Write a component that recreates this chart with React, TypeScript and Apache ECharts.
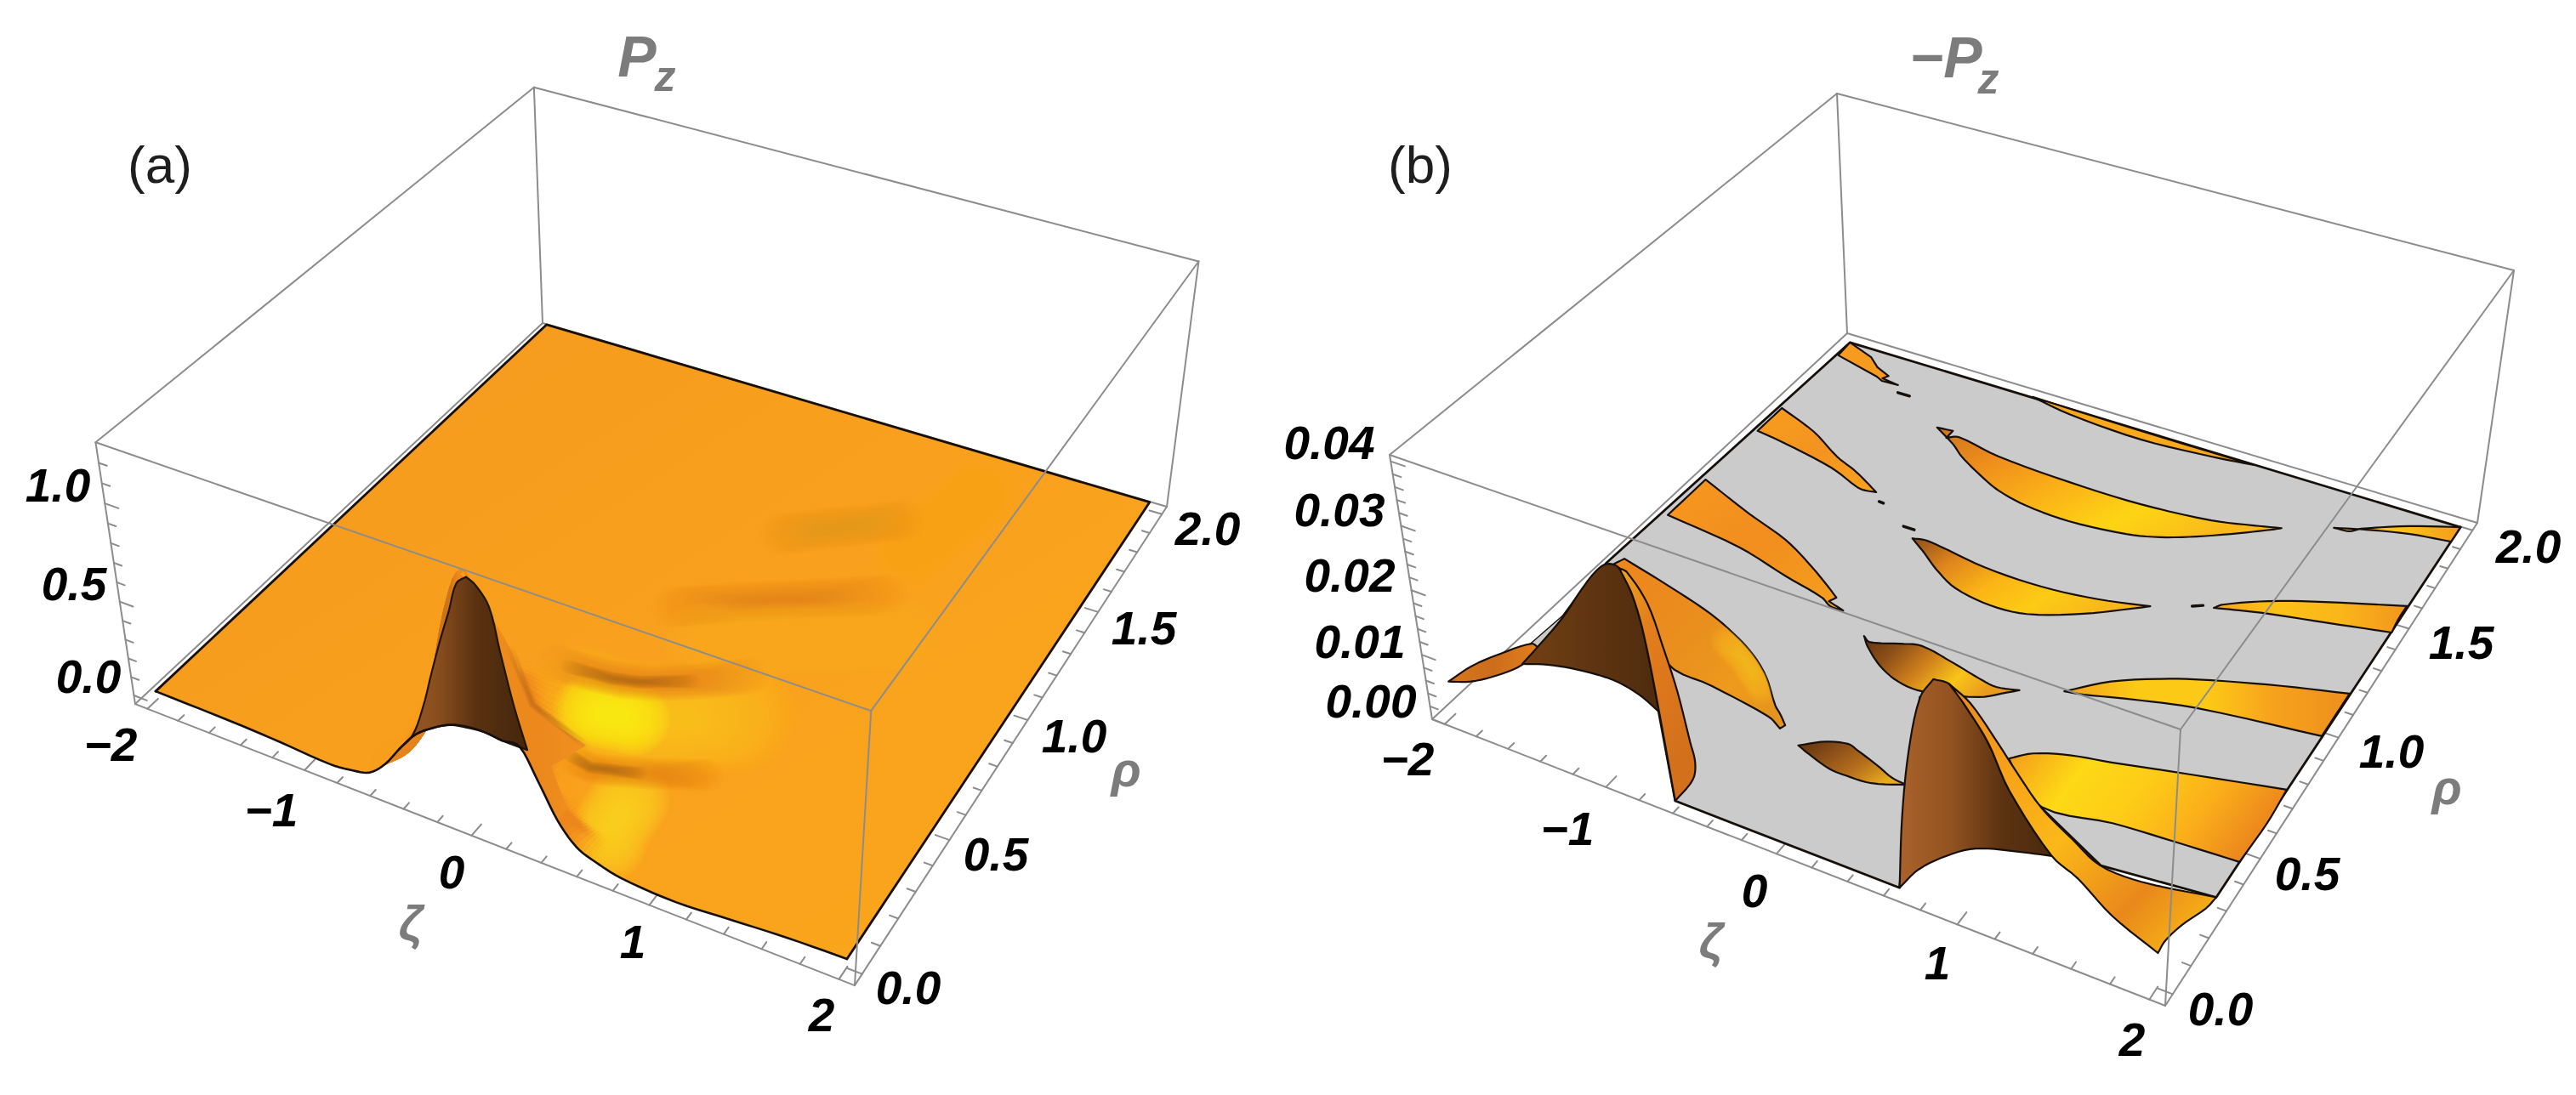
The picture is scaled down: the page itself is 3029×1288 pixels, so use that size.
import React, { useEffect, useRef } from "react";
import * as echarts from "echarts";

// ---------- values ----------
const zetaKnots = [-2, -1.5, -1.2, -0.9, -0.75, -0.65, -0.55, -0.45, -0.35, -0.25, -0.15, -0.05, 0.05, 0.15, 0.25, 0.35, 0.45, 0.55, 0.65, 0.8, 1.1, 1.4, 1.7, 2];
const rhoKnots = [0, 0.05, 0.1, 0.15, 0.2, 0.25, 0.3, 0.35, 0.4, 0.5, 0.6, 1, 1.5, 2];
const pzRho000 = [0, -0.005, -0.015, -0.03, -0.015, 0.01, 0.09, 0.21, 0.315, 0.38, 0.43, 0.45, 0.46, 0.45, 0.45, 0.3, 0.14, 0.04, 0, -0.035, -0.05, -0.03, -0.01, 0];
const pzRho005 = [0, 0, -0.01, -0.02, -0.005, 0.017, 0.054, 0.14, 0.29, 0.49, 0.65, 0.7, 0.63, 0.48, 0.32, 0.18, 0.09, 0.03, 0, -0.03, -0.04, -0.02, 0, 0];
const pzRho010 = [0, 0, -0.005, -0.01, 0, 0.017, 0.075, 0.24, 0.52, 0.83, 0.92, 0.78, 0.54, 0.29, 0.13, 0.05, 0.015, 0, 0, -0.015, -0.02, -0.01, 0, 0];
const pzRho015 = [0, 0, 0, 0, 0, 0.018, 0.105, 0.37, 0.78, 1.0, 0.87, 0.58, 0.29, 0.11, 0.03, 0.01, 0, 0, 0, -0.005, -0.01, 0, 0, 0];
const pzRho020 = [0, 0, 0, 0, 0, 0.02, 0.12, 0.38, 0.72, 0.85, 0.67, 0.39, 0.165, 0.05, 0.012, 0, 0, 0, 0, 0, 0, 0, 0, 0];
const pzRho025 = [0, 0, 0, 0, 0, 0.02, 0.1, 0.3, 0.55, 0.61, 0.46, 0.25, 0.09, 0.025, 0.005, 0, 0, 0, 0, 0, 0, 0, 0, 0];
const pzRho030 = [0, 0, 0, 0, 0, 0.02, 0.09, 0.24, 0.39, 0.4, 0.27, 0.13, 0.04, 0.01, 0, 0, 0, 0, 0, 0, 0, 0, 0, 0];
const pzRho035 = [0, 0, 0, 0, 0, 0.017, 0.07, 0.17, 0.255, 0.23, 0.13, 0.04, 0.01, 0, 0, 0, 0, 0, 0, 0, 0, 0, 0, 0];
const pzRho040 = [0, 0, 0, 0, 0, 0.01, 0.04, 0.1, 0.14, 0.1, 0.04, 0.01, 0, 0, 0, 0, 0, 0, 0, 0, 0, 0, 0, 0];
const pzRho050 = [0, 0, 0, 0, 0, 0, 0.01, 0.02, 0.03, 0.02, 0.01, 0, 0, 0, 0, 0, 0, 0, 0, 0, 0, 0, 0, 0];
const pzFlat = [0, 0, 0, 0, 0, 0, 0, 0, 0, 0, 0, 0, 0, 0, 0, 0, 0, 0, 0, 0, 0, 0, 0, 0];
const pzRows = [pzRho000, pzRho005, pzRho010, pzRho015, pzRho020, pzRho025, pzRho030, pzRho035, pzRho040, pzRho050, pzFlat, pzFlat, pzFlat, pzFlat];
// front face and right flank of the Pz ridge, [zeta, rho, value]
const aFace = [[-0.46, 0, 0.2], [-0.35, 0, 0.315], [-0.15, 0, 0.43], [0, 0, 0.46], [0.16, 0, 0.45], [0.29, 0, 0.45], [0.07, 0.12, 0.45], [-0.04, 0.153, 0.65], [-0.07, 0.135, 0.89], [-0.13, 0.126, 0.99], [-0.168, 0.116, 1.03], [-0.217, 0.11, 0.99], [-0.24, 0.089, 0.87], [-0.294, 0.084, 0.71], [-0.33, 0.064, 0.55], [-0.344, 0.032, 0.42], [-0.39, 0.012, 0.28]];
const aFlank = [[-0.168, 0.116, 1.03], [-0.07, 0.135, 0.89], [-0.04, 0.153, 0.65], [0.07, 0.12, 0.45], [0.29, 0, 0.45], [0.35, 0, 0.3], [0.45, 0, 0.14], [0.354, 0.125, 0], [0.124, 0.24, 0], [0.2, 0.35, 0], [-0.2, 0.42, 0], [-0.533, 0.583, 0]];

// tone bands on the Pz sheet, [zeta, rho]
const bandDark3 = [[0.06, 0.945], [0.55, 1.108], [1.04, 1.261]];
const bandLight3 = [[0.3, 0.859], [0.73, 0.973], [1.26, 1.131]];
const bandDark4 = [[0.28, 1.374], [0.84, 1.594]];
const bandLight4 = [[0.98, 1.437], [1.13, 1.841]];
const bandYellow1 = [[0.01, 0.485], [0.22, 0.48], [0.47, 0.531], [0.77, 0.638]];
const bandYellow1Core = [[0.08, 0.47], [0.32, 0.495]];
const bandYellow2 = [[0.59, 0.23], [0.61, 0.123], [0.64, 0.072]];
const bandStreak1 = [[-0.27, 0.592], [-0.04, 0.602], [0.12, 0.616], [0.26, 0.643], [0.51, 0.721], [0.69, 0.789]];
const bandStreak1Core = [[-0.2, 0.595], [0.06, 0.608], [0.2, 0.63], [0.45, 0.7]];
const bandStreak2 = [[0.19, 0.289], [0.3, 0.284], [0.4, 0.295], [0.6, 0.337], [0.85, 0.398]];
const bandStreak2Core = [[0.15, 0.3], [0.3, 0.284], [0.55, 0.325]];
const bandRidgeFoot = [[-0.533, 0.583], [-0.2, 0.42], [0.2, 0.35]];

// -Pz: clipped floor and raised patches, [zeta, rho, value]
const floorB = [[-2.01, 1.999], [2.01, 1.998], [2.0, 0.33], [1.42, 0.296], [0.98, 0.408], [0.04, 0.63], [0.64, 0.001], [-0.64, 0], [-1.09, 0.26], [-1.51, 0.501], [-2.05, 0.71]];
const floorSliver = [[-2.0, 0.329], [-1.99, 0.462], [-1.98, 0.456], [-1.94, 0.324]];
const p1 = [[-2.0, 1.919], [-2.01, 1.999], [-1.81, 1.958], [-1.72, 1.919], [-1.61, 1.893], [-1.63, 1.873], [-1.51, 1.864], [-1.62, 1.86], [-1.67, 1.873]];
const p2 = [[-0.73, 2.002], [0.01, 1.996], [0.73, 1.996], [0.48, 1.976], [0.04, 1.956], [-0.45, 1.973]];
const p3 = [[-1.08, 1.723], [-0.98, 1.73], [-0.98, 1.689], [-0.92, 1.71], [-0.62, 1.679], [-0.14, 1.664], [0.32, 1.665], [0.74, 1.691], [0.97, 1.726], [1.12, 1.752], [1.08, 1.734], [0.93, 1.674], [0.73, 1.602], [0.55, 1.55], [0.37, 1.518], [0.03, 1.495], [-0.25, 1.503], [-0.46, 1.53], [-0.63, 1.573], [-0.81, 1.628], [-0.91, 1.669]];
const p4 = [[-0.67, 1.214], [-0.6, 1.224], [-0.5, 1.219], [-0.19, 1.194], [0.17, 1.192], [0.49, 1.216], [0.77, 1.256], [0.69, 1.223], [0.48, 1.141], [0.21, 1.067], [0, 1.053], [-0.24, 1.074], [-0.41, 1.121], [-0.55, 1.173], [-0.6, 1.19]];
const p5 = [[-2.0, 1.59], [-1.7, 1.529], [-1.45, 1.453], [-1.29, 1.418], [-1.17, 1.385], [-1.07, 1.355], [-1.15, 1.347], [-1.2, 1.352], [-1.42, 1.397], [-1.78, 1.437], [-2.0, 1.454]];
const p6 = [[-2.0, 1.174], [-1.6, 1.094], [-1.29, 1.039], [-1.06, 0.977], [-0.86, 0.914], [-0.77, 0.883], [-0.79, 0.86], [-0.68, 0.844], [-0.76, 0.843], [-0.84, 0.865], [-1.11, 0.898], [-1.48, 0.948], [-2.0, 0.979]];
const p7 = [[-0.47, 0.777], [-0.42, 0.762], [-0.27, 0.794], [-0.16, 0.814], [0.06, 0.792], [0.24, 0.769], [0.35, 0.76], [0.47, 0.777], [0.42, 0.753], [0.31, 0.703], [0.03, 0.653], [-0.12, 0.657], [-0.27, 0.69], [-0.41, 0.744]];
const p8 = [[-0.32, 0.32], [-0.21, 0.366], [-0.1, 0.385], [-0.04, 0.376], [0.11, 0.35], [0.22, 0.328], [0.31, 0.322], [0.15, 0.286], [0.01, 0.28], [-0.09, 0.282], [-0.24, 0.305]];
const band3 = [[1.08, 1.332], [1.11, 1.356], [1.32, 1.43], [1.59, 1.499], [2.0, 1.589], [2.0, 1.526], [2.01, 1.463], [1.66, 1.417], [1.36, 1.379], [1.21, 1.355]];
const band4 = [[1.38, 1.824], [1.47, 1.83], [1.52, 1.857], [1.75, 1.933], [2.01, 1.998], [2.01, 1.921], [1.78, 1.899], [1.55, 1.86]];
const band2 = [[0.68, 0.829], [0.86, 0.922], [1.12, 1.005], [1.32, 1.052], [1.66, 1.118], [2.0, 1.174], [2.0, 1.119], [2.0, 1.044], [2.0, 0.985], [1.34, 0.932], [0.99, 0.879], [0.78, 0.841]];
const band1 = [[0.67, 0.53], [0.76, 0.576], [0.93, 0.614], [1.14, 0.64], [1.42, 0.679], [2.0, 0.757], [2.01, 0.622], [2.0, 0.466], [1.66, 0.455], [1.34, 0.442], [0.98, 0.411], [0.74, 0.496]];
const dashes = [[[-1.47, 1.828], [-1.39, 1.829]], [[-0.77, 1.251], [-0.7, 1.251]], [[-1.01, 1.32], [-0.98, 1.319]], [[0.97, 1.311], [1.02, 1.328]]];
const m1 = [[-2.01, 0.003, 0.005], [-1.91, 0.042, 0.007], [-1.8, 0.102, 0.008], [-1.68, 0.147, 0.009], [-1.63, 0.142, 0.009], [-1.69, 0.107, 0.007], [-1.79, 0.06, 0.006], [-1.91, 0.03, 0.005]];
const m2 = [[-1.4, 0.113, 0.017], [-1.36, 0.149, 0.019], [-1.37, 0.12, 0.018]];
const mSheet = [[-1.12, 0.134, 0.027], [-1.05, 0.134, 0.027], [-0.97, 0.123, 0.024], [-0.9, 0.108, 0.019], [-0.72, 0.022, 0.012], [-0.85, 0.033, 0.013], [-0.99, 0.029, 0.014], [-1.23, 0.039, 0.013], [-1.41, 0.039, 0.012], [-1.66, 0.09, 0.008], [-1.57, 0.109, 0.011], [-1.46, 0.147, 0.015], [-1.31, 0.144, 0.021], [-1.2, 0.138, 0.025]];
const mRibbon = [[-1.05, 0.134, 0.027], [-0.97, 0.123, 0.024], [-0.9, 0.108, 0.019], [-0.72, 0.022, 0.012], [-0.64, 0, 0], [-0.62, 0.066, 0.001], [-0.62, 0.082, 0.003], [-0.67, 0.102, 0.005], [-0.79, 0.148, 0.01], [-0.85, 0.148, 0.016], [-0.96, 0.173, 0.021], [-1.03, 0.15, 0.026]];
const mBack = [[-1.09, 0.142, 0.027], [-1.07, 0.171, 0.027], [-0.97, 0.276, 0.02], [-0.82, 0.337, 0.015], [-0.69, 0.353, 0.012], [-0.62, 0.371, 0.009], [-0.57, 0.38, 0.006], [-0.53, 0.382, 0.002], [-0.5, 0.38, 0.001], [-0.46, 0.37, 0], [-0.47, 0.353, 0], [-0.57, 0.378, 0], [-0.96, 0.411, 0], [-1.27, 0.433, 0]];
const mBackGlow = [[-0.73, 0.33, 0.012], [-0.64, 0.345, 0.009], [-0.57, 0.358, 0.005]];
const cSheet = [[0.64, 0.001, 0], [0.64, 0.022, 0.01], [0.7, 0.009, 0.021], [0.75, 0.023, 0.029], [0.81, 0.032, 0.032], [0.89, 0.034, 0.032], [0.98, 0.025, 0.03], [1.1, 0.02, 0.026], [1.21, 0.019, 0.02], [1.42, 0.03, 0.012], [1.29, 0.009, 0.012], [1.05, 0.008, 0.01], [0.91, -0.007, 0.008], [0.75, -0.001, 0.004]];
const cRibbon = [[0.89, 0.034, 0.032], [0.99, 0.039, 0.03], [1.12, 0.037, 0.026], [1.22, 0.043, 0.022], [1.33, 0.062, 0.017], [1.47, 0.082, 0.013], [1.53, 0.174, 0.006], [1.73, 0.191, 0.005], [2.0, 0.33, 0], [2.02, 0.245, 0.002], [2.0, 0.13, 0.004], [1.99, 0.046, 0.005], [2.01, -0.016, 0.006], [1.76, 0.001, 0.008], [1.57, 0.013, 0.011], [1.42, 0.03, 0.012], [1.21, 0.019, 0.02], [1.1, 0.02, 0.026], [0.98, 0.025, 0.03]];

// ---------- ticks and labels ----------
const zetaTicks = [-2, -1.8, -1.6, -1.4, -1.2, -1, -0.8, -0.6, -0.4, -0.2, 0, 0.2, 0.4, 0.6, 0.8, 1, 1.2, 1.4, 1.6, 1.8, 2];
const rhoTicks = [0, 0.1, 0.2, 0.3, 0.4, 0.5, 0.6, 0.7, 0.8, 0.9, 1, 1.1, 1.2, 1.3, 1.4, 1.5, 1.6, 1.7, 1.8, 1.9, 2];
const pzTicks = [0, 0.1, 0.2, 0.3, 0.4, 0.5, 0.6, 0.7, 0.8, 0.9, 1, 1.1, 1.2];
const mpzTicks = [0, 0.002, 0.004, 0.006, 0.008, 0.01, 0.012, 0.014, 0.016, 0.018, 0.02, 0.022, 0.024, 0.026, 0.028, 0.03, 0.032, 0.034, 0.036, 0.038, 0.04];
const zetaLabels = ["\u22122", "\u22121", "0", "1", "2"];
const rhoLabels = ["0.0", "0.5", "1.0", "1.5", "2.0"];
const pzLabels = ["0.0", "0.5", "1.0"];
const mpzLabels = ["0.00", "0.01", "0.02", "0.03", "0.04"];

// ---------- layout ----------
type Pt = number[];
const quadMap = (q: Pt[]) => {
  const [p0, p1, p2, p3] = q;
  const dx1 = p1[0] - p2[0], dy1 = p1[1] - p2[1], dx2 = p3[0] - p2[0], dy2 = p3[1] - p2[1];
  const sx = p0[0] - p1[0] + p2[0] - p3[0], sy = p0[1] - p1[1] + p2[1] - p3[1];
  const det = dx1 * dy2 - dx2 * dy1;
  const g = (sx * dy2 - dx2 * sy) / det, h = (dx1 * sy - sx * dy1) / det;
  const a = p1[0] - p0[0] + g * p1[0], b = p3[0] - p0[0] + h * p3[0], c = p0[0];
  const d = p1[1] - p0[1] + g * p1[1], e = p3[1] - p0[1] + h * p3[1], f = p0[1];
  return (u: number, v: number) => { const w = g * u + h * v + 1; return [(a * u + b * v + c) / w, (d * u + e * v + f) / w]; };
};
const makeProjection = (floor: Pt[], top: Pt[], level: (z: number) => number) => {
  const F = quadMap(floor), T = quadMap(top);
  return (ze: number, rh: number, z: number) => {
    const u = (ze + 2.08) / 4.16, v = (rh + 0.04) / 2.08, w = level(z), A = F(u, v), B = T(u, v);
    return [A[0] + (B[0] - A[0]) * w, A[1] + (B[1] - A[1]) * w];
  };
};
const projA = makeProjection([[159, 828], [1005, 1159], [1372, 596], [638, 380]], [[113, 524], [1024, 840], [1409, 311], [628, 106]], (z) => 0.033 + 0.709 * z + 0.034 * z * z);
const projB = makeProjection([[1684, 846], [2546, 1183], [2913, 615], [2172, 392]], [[1634, 535], [2564, 858], [2956, 318], [2160, 110]], (z) => z / 0.041);

const GRAY = "#8c8c8c", BLACK = "#17100a";
const FONT = "Liberation Sans";

// ---------- smoothing of the drawn sheet (as a smooth line would) ----------
const hermite = (xs: number[], ys: number[], n: number) => {
  const m = ys.map((_, i) => {
    if (i === 0) return (ys[1] - ys[0]) / (xs[1] - xs[0]);
    if (i === ys.length - 1) return (ys[i] - ys[i - 1]) / (xs[i] - xs[i - 1]);
    return (ys[i + 1] - ys[i - 1]) / (xs[i + 1] - xs[i - 1]);
  });
  const out: number[] = [];
  for (let i = 0; i < xs.length - 1; i++) {
    const h = xs[i + 1] - xs[i];
    for (let k = 0; k < n; k++) {
      const t = k / n, t2 = t * t, t3 = t2 * t;
      out.push((2 * t3 - 3 * t2 + 1) * ys[i] + (t3 - 2 * t2 + t) * h * m[i] + (-2 * t3 + 3 * t2) * ys[i + 1] + (t3 - t2) * h * m[i + 1]);
    }
  }
  out.push(ys[ys.length - 1]);
  return out;
};
const fine = (xs: number[], n: number) => {
  const out: number[] = [];
  for (let i = 0; i < xs.length - 1; i++) for (let k = 0; k < n; k++) out.push(xs[i] + ((xs[i + 1] - xs[i]) * k) / n);
  out.push(xs[xs.length - 1]);
  return out;
};
// rounds a closed outline between its sharp corners
const roundOutline = (p: number[][], n = 5) => {
  const L = p.length, out: number[][] = [];
  const isCorner = (i: number) => {
    const a = p[(i - 1 + L) % L], b = p[i], c = p[(i + 1) % L];
    const u = [b[0] - a[0], b[1] - a[1]], v = [c[0] - b[0], c[1] - b[1]];
    const cos = (u[0] * v[0] + u[1] * v[1]) / (Math.hypot(u[0], u[1]) * Math.hypot(v[0], v[1]) + 1e-9);
    return cos < 0.6;
  };
  for (let i = 0; i < L; i++) {
    const a = p[(i - 1 + L) % L], b = p[i], c = p[(i + 1) % L], d = p[(i + 2) % L];
    const seg = Math.hypot(c[0] - b[0], c[1] - b[1]);
    const tan = (q0: number[], q1: number[], q2: number[], corner: boolean, fallback: number[]) => {
      if (corner) return fallback;
      const t = [q2[0] - q0[0], q2[1] - q0[1]], l = Math.hypot(t[0], t[1]) + 1e-9;
      return [(t[0] / l) * seg, (t[1] / l) * seg];
    };
    const chord = [c[0] - b[0], c[1] - b[1]];
    const m1 = tan(a, b, c, isCorner(i), chord), m2 = tan(b, c, d, isCorner((i + 1) % L), chord);
    for (let k = 0; k < n; k++) {
      const t = k / n, t2 = t * t, t3 = t2 * t;
      const h00 = 2 * t3 - 3 * t2 + 1, h10 = t3 - 2 * t2 + t, h01 = -2 * t3 + 3 * t2, h11 = t3 - t2;
      out.push([h00 * b[0] + h10 * m1[0] + h01 * c[0] + h11 * m2[0], h00 * b[1] + h10 * m1[1] + h01 * c[1] + h11 * m2[1]]);
    }
  }
  return out;
};
const trimLine = (p: number[][], f: number) => {
  const len = [0];
  for (let i = 1; i < p.length; i++) len.push(len[i - 1] + Math.hypot(p[i][0] - p[i - 1][0], p[i][1] - p[i - 1][1]));
  const L = len[len.length - 1], a = f * L, b = (1 - f) * L;
  const at = (s: number) => {
    for (let i = 1; i < p.length; i++) if (s <= len[i]) {
      const t = (s - len[i - 1]) / (len[i] - len[i - 1] || 1);
      return [p[i - 1][0] + (p[i][0] - p[i - 1][0]) * t, p[i - 1][1] + (p[i][1] - p[i - 1][1]) * t];
    }
    return p[p.length - 1];
  };
  const out = [at(a)];
  for (let i = 1; i < p.length - 1; i++) if (len[i] > a && len[i] < b) out.push(p[i]);
  out.push(at(b));
  return out;
};
const hex = (c: string) => [parseInt(c.slice(1, 3), 16), parseInt(c.slice(3, 5), 16), parseInt(c.slice(5, 7), 16)];
const mix = (a: number[], b: number[], t: number) => a.map((v, i) => v + (b[i] - v) * t);
const css = (c: number[]) => `rgb(${Math.round(c[0])},${Math.round(c[1])},${Math.round(c[2])})`;
const sstep = (a: number, b: number, x: number) => { const t = Math.min(1, Math.max(0, (x - a) / (b - a))); return t * t * (3 - 2 * t); };

type Project = (a: number, b: number, c: number) => number[];
const pts3 = (P: Project, list: number[][]) => list.map((p) => P(p[0], p[1], p[2] ?? 0));

const boxBack = (P: Project, zLo: number, zHi: number) => {
  const c = (a: number, b: number, z: number) => P(a, b, z);
  const Z = 2.08, R0 = -0.04, R1 = 2.04;
  return [
    [c(-Z, R1, zLo), c(-Z, R1, zHi)], [c(-Z, R0, zHi), c(-Z, R1, zHi)], [c(-Z, R1, zHi), c(Z, R1, zHi)],
    [c(-Z, R0, zLo), c(-Z, R0, zHi)], [c(Z, R1, zLo), c(Z, R1, zHi)],
    [c(-Z, R0, zLo), c(-Z, R1, zLo)], [c(-Z, R1, zLo), c(Z, R1, zLo)],
    [c(-Z, R0, zLo), c(Z, R0, zLo)], [c(Z, R0, zLo), c(Z, R1, zLo)],
  ];
};
const boxFront = (P: Project, zLo: number, zHi: number) => {
  const Z = 2.08, R0 = -0.04, R1 = 2.04;
  return [[P(-Z, R0, zHi), P(Z, R0, zHi)], [P(Z, R0, zHi), P(Z, R1, zHi)], [P(Z, R0, zHi), P(Z, R0, zLo)]];
};
const tickSegs = (P: Project, zLo: number, zTicks: number[], zMajor: number) => {
  const segs: number[][][] = [];
  const near = (v: number, m: number) => Math.abs(v / m - Math.round(v / m)) < 1e-6;
  zetaTicks.forEach((t) => { const l = near(t, 1) ? 0.045 : 0.025; segs.push([P(t, -0.04, zLo), P(t, -0.04 + l, zLo)]); });
  rhoTicks.forEach((t) => { const l = near(t, 0.5) ? 0.075 : 0.045; segs.push([P(2.08, t, zLo), P(2.08 - l, t, zLo)]); });
  zTicks.forEach((t) => { const l = near(t, zMajor) ? 0.085 : 0.05; segs.push([P(-2.08, -0.04, t), P(-2.08 + l, -0.04, t)]); });
  return segs;
};

// ---------- marks ----------
type Mark = any;
const lineEl = (seg: number[][], c: (p: number[]) => number[], stroke: string, lineWidth: number) => ({
  type: "polyline", shape: { points: seg.map(c) }, style: { fill: "none", stroke, lineWidth, lineCap: "round", lineJoin: "round" },
});
const softBand = (P: Project, c: (p: number[]) => number[], pts: number[][], color: string, width: number, peak: number) => {
  const layers = 24, op = 1 - Math.pow(1 - peak, 1 / layers), line = pts3(P, pts), els: Mark[] = [];
  for (let k = 0; k < layers; k++) {
    els.push({
      type: "polyline", shape: { points: trimLine(line, (k / layers) * 0.42).map(c) },
      style: { fill: "none", stroke: color, lineWidth: width * (1 - k / layers), opacity: op, lineCap: "round", lineJoin: "round" },
    });
  }
  return els;
};

const buildA = (c: (p: number[]) => number[]): Mark[] => {
  const P: Project = projA;
  const out: Mark[] = [];
  boxBack(P, -0.047, 1.3).forEach((s) => out.push(lineEl(s, c, GRAY, 2)));
  tickSegs(P, -0.047, pzTicks, 0.5).forEach((s) => out.push(lineEl(s, c, GRAY, 2)));

  const nZ = 5, nR = 5;
  const rowsFine = pzRows.map((r) => hermite(zetaKnots, r, nZ));
  const zs = fine(zetaKnots, nZ), rs = fine(rhoKnots, nR);
  const cols = zs.map((_, j) => hermite(rhoKnots, rowsFine.map((r) => r[j]), nR));
  const Z = (i: number, j: number) => cols[j][i];

  const outline: number[][] = [];
  zs.forEach((ze, j) => outline.push(P(ze, 0, Z(0, j))));
  outline.push(P(2, 2, 0), P(-2, 2, 0));
  const outlinePx = outline.map(c);
  const G = echarts.graphic.LinearGradient;
  out.push({
    type: "polygon", shape: { points: outlinePx },
    style: { fill: new G(0, 0, 1, 1, [{ offset: 0, color: "#F5991F" }, { offset: 0.55, color: "#F9A11D" }, { offset: 1, color: "#FBA71C" }]), stroke: "none" },
  });

  const bandEls: Mark[] = [];
  const bands: [number[][], string, number, number][] = [
    [bandDark3, "#F08C1F", 50, 0.6], [bandLight3, "#FBB41A", 85, 0.8], [bandDark4, "#F0901F", 50, 0.6], [bandLight4, "#FBB21A", 85, 0.7],
    [bandYellow1, "#FDC516", 135, 0.85], [bandYellow2, "#FDD61A", 95, 0.92], [bandYellow1Core, "#FFEB14", 85, 0.95],
    [bandStreak1, "#EB841E", 44, 0.75], [bandStreak2, "#EB841E", 38, 0.7],
    [bandStreak1Core, "#A8601E", 16, 0.7], [bandStreak2Core, "#A8601E", 15, 0.7],
  ];
  bands.forEach(([pts, color, width, peak]) => bandEls.push(...softBand(P, c, pts, color, width, peak)));
  out.push({ type: "group", clipPath: { type: "polygon", shape: { points: outlinePx } }, children: bandEls });

  const base = hex("#F99F1D"), side = hex("#EC861C"), light = hex("#97581F");
  const proj = zs.map((ze, j) => rs.map((rh, i) => P(ze, rh, Z(i, j))));
  const maxZ = (i: number, j: number) => Math.max(Z(i, j), Z(i + 1, j), Z(i, j + 1), Z(i + 1, j + 1));
  for (let i = rs.length - 2; i >= 0; i--) {
    for (let j = 0; j < zs.length - 1; j++) {
      const top = maxZ(i, j);
      if (top > 0.003) {
        const dR = (Z(i + 1, j) + Z(i + 1, j + 1) - Z(i, j) - Z(i, j + 1)) / 2 / (rs[i + 1] - rs[i]);
        const dZ = (Z(i, j + 1) + Z(i + 1, j + 1) - Z(i, j) - Z(i + 1, j)) / 2 / (zs[j + 1] - zs[j]);
        let col = mix(base, side, sstep(0.1, 1.2, Math.abs(dR) + Math.abs(dZ) * 0.4));
        if (dZ > 0) col = mix(col, light, sstep(0.6, 2.6, dZ) * 0.35);
        const fill = css(col);
        const opacity = Math.min(1, (top - 0.003) / 0.05);
        out.push({
          type: "polygon",
          shape: { points: [proj[j][i], proj[j + 1][i], proj[j + 1][i + 1], proj[j][i + 1]].map(c) },
          style: { fill, stroke: fill, lineWidth: 0.7, opacity },
        });
      }
    }
  }
  out.push({
    type: "polygon", shape: { points: roundOutline(pts3(P, aFlank).map(c)) },
    style: { fill: new G(0, 0, 1, 0, [{ offset: 0, color: "#EF8E1C" }, { offset: 0.6, color: "#EC881C" }, { offset: 1, color: "#F09020" }]), stroke: "none" },
  });
  out.push(...softBand(P, c, bandRidgeFoot, "#BE7422", 10, 0.5));
  const face = roundOutline(pts3(P, aFace).map(c));
  out.push({
    type: "polygon", shape: { points: face },
    style: {
      fill: new G(0, 0, 1, 0, [{ offset: 0, color: "#99592A" }, { offset: 0.3, color: "#8A4E1D" }, { offset: 0.6, color: "#5A3211" }, { offset: 1, color: "#44260D" }]),
      stroke: "#21150b", lineWidth: 2.2, lineJoin: "round",
    },
  });
  out.push(lineEl(outline.slice(0, zs.length), c, BLACK, 2.6));
  out.push(lineEl([P(2, 0, 0), P(2, 2, 0), P(-2, 2, 0), P(-2, 0, 0)], c, BLACK, 2.8));
  boxFront(P, -0.047, 1.3).forEach((s) => out.push(lineEl(s, c, GRAY, 2)));
  return out;
};

const buildB = (c: (p: number[]) => number[]): Mark[] => {
  const P: Project = projB;
  const out: Mark[] = [];
  boxBack(P, 0, 0.041).forEach((s) => out.push(lineEl(s, c, GRAY, 2)));
  tickSegs(P, 0, mpzTicks, 0.01).forEach((s) => out.push(lineEl(s, c, GRAY, 2)));
  const G = echarts.graphic.LinearGradient;
  const patch = (list: number[][], stops: string[], dir: number[] = [0, 0, 1, 0], round = true, lw = 2.2) => {
    const colorStops = stops.map((color, i) => ({ offset: stops.length === 1 ? 0 : i / (stops.length - 1), color }));
    const px = pts3(P, list).map(c);
    out.push({
      type: "polygon", shape: { points: round ? roundOutline(px) : px },
      style: { fill: new G(dir[0], dir[1], dir[2], dir[3], colorStops), stroke: BLACK, lineWidth: lw, lineJoin: "round" },
    });
  };
  patch(floorB, ["#CBCBCB", "#CBCBCB"], [0, 0, 1, 0], false, 2.8);
  patch(floorSliver, ["#CBCBCB", "#CBCBCB"], [0, 0, 1, 0], false, 1.4);
  patch(p1, ["#F79C1F", "#F59A1F"], [0, 0, 1, 1], false);
  patch(p2, ["#F9A71C", "#FAAA1B"]);
  patch(p5, ["#F89E1E", "#F39320", "#F9A41C"], [0, 0, 1, 1]);
  patch(p3, ["#C9741D", "#EF8E1C", "#FBB218", "#FDD514", "#F9B81B"], [0, 0, 1, 0.7]);
  patch(p6, ["#F7981E", "#F18E1E", "#F4A01E"], [0, 0, 1, 1]);
  patch(band4, ["#FBB51A", "#FCC417", "#F49C1D"], [0, 0, 1, 0]);
  patch(p4, ["#8C4F1C", "#DF851D", "#FBB416", "#FCCB14", "#F8B81B"], [0, 0, 1, 0.5]);
  patch(band3, ["#F7A51C", "#FCC216", "#FAB51A", "#F2951E"], [0, 0, 1, 0]);
  patch(p7, ["#5E3210", "#8E5019", "#D0801C", "#F8C41A", "#E89A1D"], [0, 0, 1, 0.4]);
  patch(p8, ["#5C3210", "#8A4E19", "#B66F1C", "#E6AA1D"], [0, 0, 1, 0.6]);
  patch(band2, ["#F3A11C", "#FBC916", "#FDC917", "#F6A01C", "#EE8F1E"], [0, 0, 1, 0]);
  patch(band1, ["#F5A01B", "#FDD916", "#FDCC17", "#FBB01A", "#EC871D"], [0, 0.1, 1, 0.4]);
  patch(mBack, ["#EE861C", "#EC8A1E", "#E98F1E", "#EE9A1C", "#E3931E"], [0, 0, 1, 0.9]);
  out.push({
    type: "group", clipPath: { type: "polygon", shape: { points: roundOutline(pts3(P, mBack).map(c)) } },
    children: softBand(P, c, mBackGlow, "#F9C51A", 38, 0.8),
  });
  patch(m1, ["#D8761C", "#CC6D1C", "#E27F1C"]);
  patch(m2, ["#F6A31C", "#F6A31C"], [0, 0, 1, 0], false);
  patch(mSheet, ["#744013", "#5F3511", "#4E2B0E"]);
  patch(mRibbon, ["#F0A51E", "#E27F1C", "#DB761C", "#D2701C"], [0, 0, 0.5, 1]);
  patch(cSheet, ["#A9622A", "#935321", "#5C3311", "#4A2A0E"]);
  patch(cRibbon, ["#E9871B", "#F6A01A", "#FBB818", "#E9881C", "#FBC514"], [0, 0, 1, 1]);
  dashes.forEach((d) => out.push(lineEl(pts3(P, d), c, BLACK, 3.4)));
  boxFront(P, 0, 0.041).forEach((s) => out.push(lineEl(s, c, GRAY, 2)));
  return out;
};

// ---------- texts ----------
const tick = (text: string, x: number, y: number) => ({
  type: "text", x, y, z: 50,
  style: { text, fontFamily: FONT, fontSize: 55, fontWeight: "bold", fontStyle: "italic", fill: "#000", align: "center", verticalAlign: "middle" },
});
const grayText = (text: string, x: number, y: number, fontSize: number) => ({
  type: "text", x, y, z: 50,
  style: { text, fontFamily: FONT, fontSize, fontWeight: "bold", fontStyle: "italic", fill: "#7c7c7c", align: "center", verticalAlign: "middle" },
});
const plain = (text: string, x: number, y: number) => ({
  type: "text", x, y, z: 50, style: { text, fontFamily: FONT, fontSize: 62, fill: "#1e1e1e", align: "center", verticalAlign: "middle" },
});
const placeA = { zeta: [[130, 876], [319, 953], [531, 1026], [744, 1108], [966, 1194]], rho: [[1068, 1162], [1171, 1005], [1263, 866], [1345, 739], [1420, 622]], z: [[104, 796], [87, 687], [68, 571]] };
const placeB = { zeta: [[1655, 893], [1843, 975], [2063, 1048], [2278, 1133], [2507, 1223]], rho: [[2611, 1187], [2713, 1028], [2812, 884], [2894, 756], [2973, 643]], z: [[1612, 825], [1599, 755], [1587, 677], [1575, 600], [1563, 521]] };

const texts = [
  ...zetaLabels.map((t, i) => tick(t, placeA.zeta[i][0], placeA.zeta[i][1])),
  ...rhoLabels.map((t, i) => tick(t, placeA.rho[i][0], placeA.rho[i][1])),
  ...pzLabels.map((t, i) => tick(t, placeA.z[i][0], placeA.z[i][1])),
  ...zetaLabels.map((t, i) => tick(t, placeB.zeta[i][0], placeB.zeta[i][1])),
  ...rhoLabels.map((t, i) => tick(t, placeB.rho[i][0], placeB.rho[i][1])),
  ...mpzLabels.map((t, i) => tick(t, placeB.z[i][0], placeB.z[i][1])),
  grayText("\u03B6", 483, 1085, 58), grayText("\u03C1", 1324, 904, 58),
  grayText("\u03B6", 2012, 1106, 58), grayText("\u03C1", 2877, 925, 58),
  grayText("P", 749, 66, 68), grayText("z", 782, 90, 50),
  grayText("\u2212P", 2288, 67, 68), grayText("z", 2338, 93, 50),
  plain("(a)", 188, 193), plain("(b)", 1670, 193),
];

export default function App() {
  const ref = useRef<HTMLDivElement>(null);
  useEffect(() => {
    document.body.style.margin = "0";
    const chart = echarts.init(ref.current!, null, { renderer: "svg" });
    chart.setOption({
      animation: false,
      grid: { left: 0, right: 0, top: 0, bottom: 0 },
      xAxis: { type: "value", min: 0, max: 3029, show: false },
      yAxis: { type: "value", min: 0, max: 1288, inverse: true, show: false },
      graphic: texts,
      series: [{
        type: "custom", coordinateSystem: "cartesian2d", clip: false, silent: true, animation: false,
        data: [[0, 0], [1, 0]],
        renderItem: (params: any, api: any) => {
          const c = (p: number[]) => api.coord(p);
          return { type: "group", children: params.dataIndex === 0 ? buildA(c) : buildB(c) };
        },
      }],
    });
    return () => chart.dispose();
  }, []);
  return <div ref={ref} style={{ width: 3029, height: 1288 }} />;
}
